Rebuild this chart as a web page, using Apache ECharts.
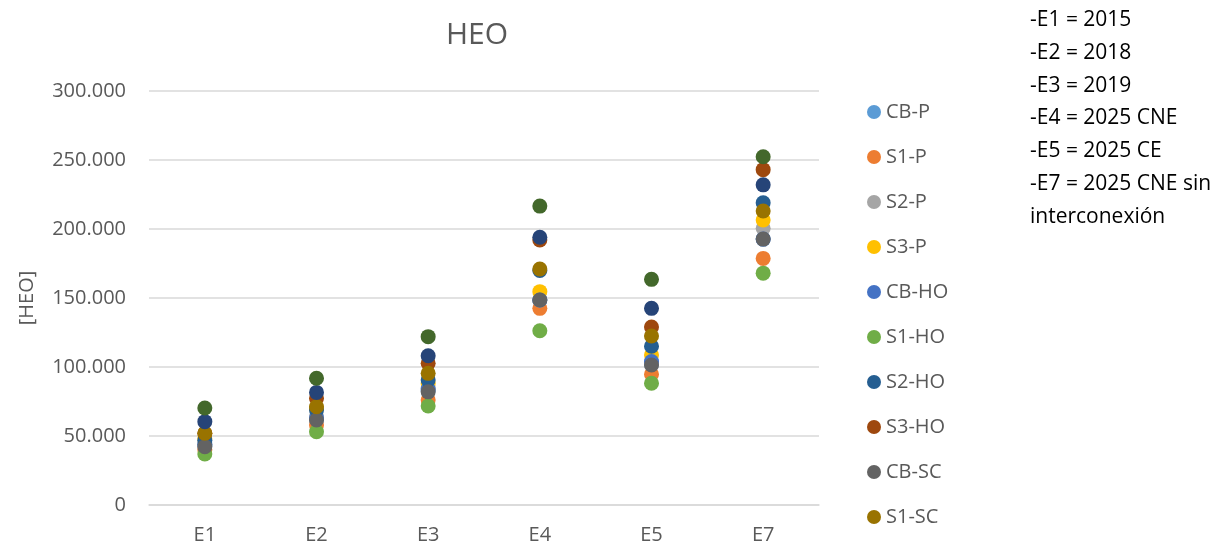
<!DOCTYPE html>
<html>
<head>
<meta charset="utf-8">
<script src="https://cdn.jsdelivr.net/npm/echarts@6/dist/echarts.min.js"></script>
<style>
  html, body { margin: 0; padding: 0; background: #fff; }
  #chart { width: 1229px; height: 546px; }
</style>
</head>
<body>
<div id="chart"></div>
<script>
// Scenario categories on the x axis
const categories = ['E1', 'E2', 'E3', 'E4', 'E5', 'E7'];

// HEO values per series, one value per scenario
const cbP  = [43000, 62000, 83000, 148500, 102000, 192700];
const s1P  = [40000, 58000, 76000, 142500, 94700, 178700];
const s2P  = [45000, 64000, 85000, 148500, 103000, 200500];
const s3P  = [48000, 70000, 88000, 154600, 108700, 206500];
const cbHO = [44000, 63000, 84000, 148500, 104000, 192700];
const s1HO = [37000, 53100, 71700, 126300, 88200, 168000];
const s2HO = [47000, 68800, 90600, 170000, 115000, 219000];
const s3HO = [52000, 77300, 102700, 192000, 129000, 243000];
const cbSC = [42300, 61600, 82000, 148500, 101400, 192700];
const s1SC = [52000, 71200, 95400, 171000, 122500, 213000];
const s2SC = [60400, 81600, 108200, 194000, 142500, 232000];
const s3SC = [70300, 91800, 122000, 216600, 163500, 252400];

// Y axis ticks
const yTicks = [0, 50000, 100000, 150000, 200000, 250000, 300000];

// Scenario notes shown at the top right
const notes = [
  '-E1 = 2015',
  '-E2 = 2018',
  '-E3 = 2019',
  '-E4 = 2025 CNE',
  '-E5 = 2025 CE',
  '-E7 = 2025 CNE sin',
  'interconexión'
];

const seriesDefs = [
  { name: 'CB-P',  data: cbP,  color: '#5B9BD5' },
  { name: 'S1-P',  data: s1P,  color: '#ED7D31' },
  { name: 'S2-P',  data: s2P,  color: '#A5A5A5' },
  { name: 'S3-P',  data: s3P,  color: '#FFC000' },
  { name: 'CB-HO', data: cbHO, color: '#4472C4' },
  { name: 'S1-HO', data: s1HO, color: '#70AD47' },
  { name: 'S2-HO', data: s2HO, color: '#255E91' },
  { name: 'S3-HO', data: s3HO, color: '#9E480E' },
  { name: 'CB-SC', data: cbSC, color: '#636363' },
  { name: 'S1-SC', data: s1SC, color: '#997300' },
  { name: 'S2-SC', data: s2SC, color: '#264478' },
  { name: 'S3-SC', data: s3SC, color: '#43682B' }
];

const FONT = '"Open Sans", "Noto Sans", sans-serif';
const GREY_TEXT = '#595959';
const GRID_LINE = '#D9D9D9';

function fmtThousands(v) {
  if (v === 0) return '0';
  return String(v).replace(/\B(?=(\d{3})+(?!\d))/g, '.');
}

const chart = echarts.init(document.getElementById('chart'), null, { renderer: 'canvas' });

chart.setOption({
  animation: false,
  backgroundColor: '#ffffff',
  textStyle: { fontFamily: FONT },
  title: {
    text: 'HEO',
    left: 472,
    top: 15,
    textAlign: 'center',
    textStyle: { fontFamily: FONT, fontSize: 30, fontWeight: 'normal', color: GREY_TEXT }
  },
  grid: { left: 149, right: 410, top: 91, bottom: 41, containLabel: false },
  legend: {
    orient: 'vertical',
    left: 862,
    top: 97,
    itemWidth: 14,
    itemHeight: 14,
    itemGap: 25,
    icon: 'circle',
    data: seriesDefs.slice(0, 10).map(s => s.name),
    textStyle: { fontFamily: FONT, fontSize: 20, lineHeight: 20, color: GREY_TEXT, padding: [0, 0, 0, 0] }
  },
  xAxis: {
    type: 'category',
    data: categories,
    boundaryGap: true,
    axisLine: { show: true, lineStyle: { color: GRID_LINE, width: 1.5 } },
    axisTick: { show: false },
    axisLabel: { fontFamily: FONT, fontSize: 20, color: GREY_TEXT, margin: 20 },
    splitLine: { show: false }
  },
  yAxis: {
    type: 'value',
    min: yTicks[0],
    max: yTicks[yTicks.length - 1],
    interval: yTicks[1] - yTicks[0],
    name: '[HEO]',
    nameLocation: 'middle',
    nameRotate: 90,
    nameGap: 112,
    nameTextStyle: { fontFamily: FONT, fontSize: 20, color: GREY_TEXT },
    axisLine: { show: false },
    axisTick: { show: false },
    axisLabel: {
      fontFamily: FONT, fontSize: 20, color: GREY_TEXT, margin: 23,
      formatter: fmtThousands
    },
    splitLine: { show: true, lineStyle: { color: GRID_LINE, width: 1.5 } }
  },
  series: seriesDefs.map(s => ({
    name: s.name,
    type: 'scatter',
    data: s.data,
    symbol: 'circle',
    symbolSize: 15,
    itemStyle: { color: s.color, opacity: 1 },
    emphasis: { disabled: true }
  })),
  graphic: [{
    type: 'text',
    left: 1030,
    top: 4,
    style: {
      text: notes.join('\n'),
      fontFamily: FONT,
      fontSize: 21,
      lineHeight: 32.7,
      fill: '#000000'
    }
  }]
});
</script>
</body>
</html>
